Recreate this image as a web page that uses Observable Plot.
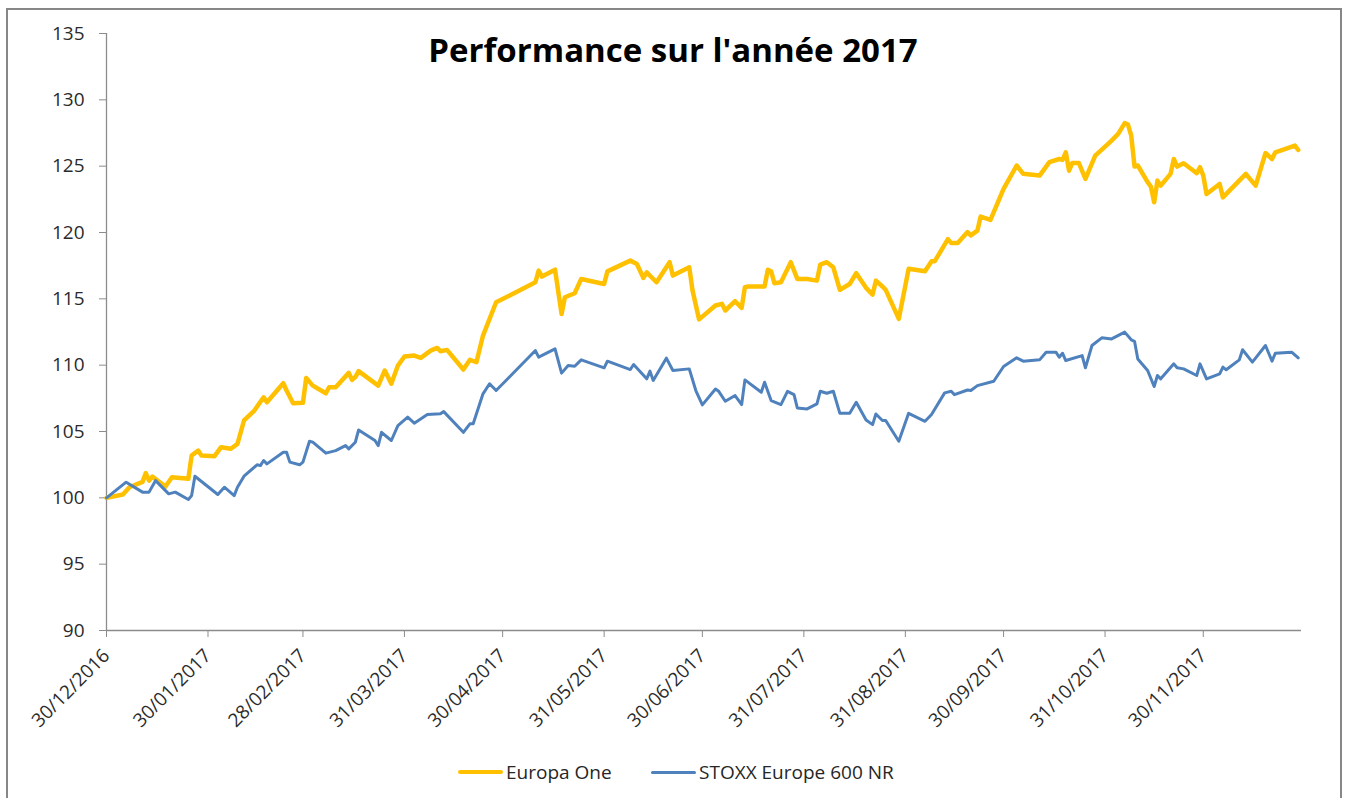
<!DOCTYPE html>
<html>
<head>
<meta charset="utf-8">
<script src="https://cdn.jsdelivr.net/npm/d3@7"></script>
<script src="https://cdn.jsdelivr.net/npm/@observablehq/plot@0.6"></script>
<style>
  html, body { margin: 0; padding: 0; background: #fff; }
  #wrap { position: relative; width: 1346px; height: 798px; overflow: hidden; background: #fff; }
  #frame { position: absolute; left: 6px; top: 8px; width: 1336px; height: 820px; border: 2px solid #878787; box-sizing: border-box; }
  #chart { position: absolute; left: 0; top: 0; }
  #title { position: absolute; left: 0; width: 1346px; top: 27px; text-align: center; font-family: "Open Sans", "Liberation Sans", sans-serif; font-weight: bold; font-size: 33px; color: #000; }
  #legend { position: absolute; top: 759px; left: 0; width: 1346px; font-family: "Open Sans", "Liberation Sans", sans-serif; font-size: 19px; color: #262626; }
  .item { position: absolute; display: flex; align-items: center; white-space: nowrap; }
  .swatch { display: inline-block; width: 45px; margin-right: 3px; border-radius: 2px; }
</style>
</head>
<body>
<div id="wrap">
  <div id="frame"></div>
  <div id="chart"></div>
  <div id="title"></div>
  <div id="legend"></div>
</div>
<script>
const titleText = "Performance sur l'année 2017";
const seriesNames = ["Europa One", "STOXX Europe 600 NR"];
const seriesColors = ["#FFC000", "#4F81BD"];

const xTickLabels = ["30/12/2016","30/01/2017","28/02/2017","31/03/2017","30/04/2017","31/05/2017",
  "30/06/2017","31/07/2017","31/08/2017","30/09/2017","31/10/2017","30/11/2017"];
const yTicks = [90, 95, 100, 105, 110, 115, 120, 125, 130, 135];
const xDomain = ["2016-12-30", "2017-12-30"];

const europaDates = ["2016-12-30","2017-01-04","2017-01-06","2017-01-10","2017-01-11","2017-01-12","2017-01-13","2017-01-17","2017-01-19","2017-01-24",
  "2017-01-25","2017-01-27","2017-01-28","2017-02-01","2017-02-03","2017-02-06","2017-02-08","2017-02-10","2017-02-13","2017-02-16",
  "2017-02-17","2017-02-22","2017-02-23","2017-02-25","2017-02-28","2017-03-01","2017-03-03","2017-03-07","2017-03-08","2017-03-10",
  "2017-03-14","2017-03-15","2017-03-16","2017-03-17","2017-03-23","2017-03-25","2017-03-27","2017-03-29","2017-03-31","2017-04-03",
  "2017-04-05","2017-04-08","2017-04-10","2017-04-11","2017-04-13","2017-04-18","2017-04-20","2017-04-22","2017-04-24","2017-04-28",
  "2017-05-02","2017-05-10","2017-05-11","2017-05-12","2017-05-16","2017-05-18","2017-05-19","2017-05-22","2017-05-24","2017-05-31",
  "2017-06-01","2017-06-08","2017-06-10","2017-06-12","2017-06-13","2017-06-16","2017-06-20","2017-06-21","2017-06-26","2017-06-27",
  "2017-06-29","2017-07-04","2017-07-06","2017-07-07","2017-07-10","2017-07-12","2017-07-13","2017-07-14","2017-07-19","2017-07-20",
  "2017-07-21","2017-07-22","2017-07-24","2017-07-27","2017-07-29","2017-08-01","2017-08-04","2017-08-05","2017-08-07","2017-08-09",
  "2017-08-11","2017-08-14","2017-08-16","2017-08-19","2017-08-21","2017-08-22","2017-08-24","2017-08-25","2017-08-29","2017-09-01",
  "2017-09-06","2017-09-08","2017-09-09","2017-09-13","2017-09-14","2017-09-16","2017-09-19","2017-09-20","2017-09-22","2017-09-23",
  "2017-09-26","2017-09-30","2017-10-04","2017-10-06","2017-10-11","2017-10-14","2017-10-17","2017-10-18","2017-10-19","2017-10-20",
  "2017-10-21","2017-10-23","2017-10-25","2017-10-28","2017-11-02","2017-11-04","2017-11-06","2017-11-07","2017-11-08","2017-11-09",
  "2017-11-10","2017-11-13","2017-11-14","2017-11-15","2017-11-16","2017-11-17","2017-11-20","2017-11-21","2017-11-22","2017-11-24",
  "2017-11-28","2017-11-29","2017-11-30","2017-12-01","2017-12-05","2017-12-06","2017-12-08","2017-12-13","2017-12-14","2017-12-16",
  "2017-12-19","2017-12-21","2017-12-22","2017-12-28","2017-12-29"];
const europaValues = [100.0,100.25,100.8,101.2,101.86,101.3,101.6,100.85,101.55,101.43,
  103.19,103.56,103.19,103.14,103.82,103.7,104.07,105.83,106.53,107.58,
  107.2,108.64,108.09,107.13,107.16,109.04,108.46,107.88,108.34,108.34,
  109.42,108.89,109.1,109.55,108.46,109.6,108.6,109.97,110.65,110.72,
  110.55,111.1,111.3,111.05,111.15,109.67,110.4,110.23,112.23,114.74,
  115.24,116.25,117.13,116.68,117.2,113.86,115.12,115.42,116.5,116.12,
  117.07,117.88,117.63,116.57,117.0,116.25,117.76,116.75,117.38,115.62,
  113.45,114.5,114.62,114.12,114.82,114.32,115.88,115.93,115.93,117.19,
  117.08,116.18,116.25,117.76,116.5,116.5,116.37,117.58,117.76,117.38,
  115.68,116.12,116.93,115.83,115.32,116.37,115.93,115.68,113.49,117.26,
  117.08,117.84,117.84,119.5,119.2,119.2,120.03,119.78,120.14,121.2,
  120.95,123.29,125.05,124.42,124.29,125.3,125.54,125.47,126.04,124.66,
  125.24,125.24,124.04,125.8,126.93,127.43,128.25,128.13,127.3,124.97,
  125.05,123.79,123.46,122.28,123.91,123.53,124.42,125.54,124.97,125.22,
  124.47,124.92,124.29,122.9,123.66,122.65,123.16,124.42,124.12,123.53,
  125.99,125.54,126.04,126.55,126.22];

const stoxxDates = ["2016-12-30","2017-01-05","2017-01-10","2017-01-12","2017-01-14","2017-01-18","2017-01-20","2017-01-24","2017-01-25","2017-01-26",
  "2017-02-02","2017-02-04","2017-02-07","2017-02-08","2017-02-10","2017-02-14","2017-02-15","2017-02-16","2017-02-17","2017-02-22",
  "2017-02-23","2017-02-24","2017-02-27","2017-02-28","2017-03-02","2017-03-03","2017-03-07","2017-03-10","2017-03-13","2017-03-14",
  "2017-03-16","2017-03-17","2017-03-22","2017-03-23","2017-03-24","2017-03-27","2017-03-29","2017-04-01","2017-04-03","2017-04-07",
  "2017-04-11","2017-04-12","2017-04-18","2017-04-20","2017-04-21","2017-04-24","2017-04-26","2017-04-28","2017-05-02","2017-05-10",
  "2017-05-11","2017-05-16","2017-05-18","2017-05-20","2017-05-22","2017-05-24","2017-05-31","2017-06-01","2017-06-08","2017-06-09",
  "2017-06-13","2017-06-14","2017-06-15","2017-06-19","2017-06-21","2017-06-26","2017-06-28","2017-06-30","2017-07-04","2017-07-05",
  "2017-07-07","2017-07-10","2017-07-12","2017-07-13","2017-07-18","2017-07-19","2017-07-21","2017-07-24","2017-07-26","2017-07-28",
  "2017-07-29","2017-08-01","2017-08-04","2017-08-05","2017-08-07","2017-08-09","2017-08-11","2017-08-14","2017-08-16","2017-08-19",
  "2017-08-21","2017-08-22","2017-08-24","2017-08-25","2017-08-29","2017-09-01","2017-09-06","2017-09-08","2017-09-12","2017-09-14",
  "2017-09-15","2017-09-19","2017-09-20","2017-09-22","2017-09-27","2017-09-30","2017-10-04","2017-10-06","2017-10-11","2017-10-13",
  "2017-10-16","2017-10-17","2017-10-18","2017-10-19","2017-10-24","2017-10-25","2017-10-27","2017-10-30","2017-11-02","2017-11-06",
  "2017-11-08","2017-11-09","2017-11-10","2017-11-13","2017-11-15","2017-11-16","2017-11-17","2017-11-21","2017-11-22","2017-11-24",
  "2017-11-28","2017-11-29","2017-12-01","2017-12-05","2017-12-06","2017-12-07","2017-12-11","2017-12-12","2017-12-15","2017-12-19",
  "2017-12-21","2017-12-22","2017-12-27","2017-12-29"];
const stoxxValues = [100.0,101.18,100.43,100.43,101.3,100.3,100.43,99.87,100.17,101.63,
  100.25,100.8,100.17,100.8,101.63,102.49,102.43,102.81,102.56,103.44,
  103.44,102.69,102.49,102.69,104.27,104.2,103.37,103.56,103.94,103.69,
  104.19,105.12,104.32,103.94,104.94,104.32,105.45,106.08,105.63,106.28,
  106.33,106.5,104.94,105.58,105.58,107.84,108.6,108.09,109.09,111.1,
  110.6,111.23,109.4,109.97,109.92,110.4,109.8,110.3,109.67,110.05,
  108.97,109.55,108.85,110.53,109.6,109.72,108.09,107.01,108.2,108.03,
  107.28,107.71,107.03,108.89,107.96,108.71,107.33,107.03,108.03,107.78,
  106.78,106.7,107.08,108.03,107.88,108.03,106.37,106.37,107.2,105.87,
  105.52,106.32,105.83,105.83,104.27,106.37,105.77,106.28,107.91,108.03,
  107.78,108.13,108.09,108.46,108.79,109.9,110.55,110.3,110.4,110.98,
  110.98,110.6,110.9,110.35,110.72,109.8,111.48,112.06,111.98,112.49,
  111.91,111.8,110.47,109.6,108.39,109.22,108.97,110.1,109.8,109.72,
  109.22,110.1,108.97,109.35,109.85,109.65,110.4,111.16,110.23,111.48,
  110.3,110.9,110.98,110.55];

const parseISO = d3.utcParse("%Y-%m-%d");
const parseFR = d3.utcParse("%d/%m/%Y");
const fmtFR = d3.utcFormat("%d/%m/%Y");

const europa = europaDates.map((d, i) => ({date: parseISO(d), value: europaValues[i], series: seriesNames[0]}));
const stoxx = stoxxDates.map((d, i) => ({date: parseISO(d), value: stoxxValues[i], series: seriesNames[1]}));

const axisColor = "#8c8c8c";
const textColor = "#2b2b2b";

const chart = Plot.plot({
  width: 1346,
  height: 750,
  marginLeft: 106,
  marginRight: 45,
  marginTop: 33,
  marginBottom: 120,
  style: {fontFamily: "'Open Sans', 'Liberation Sans', sans-serif", fontSize: "19px", color: textColor, background: "transparent"},
  x: {type: "utc", domain: xDomain.map(parseISO)},
  y: {domain: [yTicks[0], yTicks[yTicks.length - 1]]},
  marks: [
    Plot.ruleY([yTicks[0]], {stroke: axisColor, strokeWidth: 1.3}),
    Plot.ruleX([parseISO(xDomain[0])], {stroke: axisColor, strokeWidth: 1.3}),
    Plot.axisY({ticks: yTicks, tickSize: 7, tickPadding: 15, fontSize: 19, stroke: axisColor, fill: textColor, label: null, tickFormat: d => String(d)}),
    Plot.axisX({ticks: xTickLabels.map(parseFR), tickFormat: fmtFR, tickSize: 7, tickPadding: 15, fontSize: 19, tickRotate: -45, stroke: axisColor, fill: textColor, label: null}),
    Plot.line(europa, {x: "date", y: "value", stroke: seriesColors[0], strokeWidth: 4.5, strokeLinejoin: "round", strokeLinecap: "round"}),
    Plot.line(stoxx, {x: "date", y: "value", stroke: seriesColors[1], strokeWidth: 3, strokeLinejoin: "round", strokeLinecap: "round"})
  ]
});
document.getElementById("chart").appendChild(chart);
document.getElementById("title").textContent = titleText;

const legend = document.getElementById("legend");
const legendLeft = [458, 651];
const swatchWidths = [4.5, 3];
seriesNames.forEach((name, i) => {
  const item = document.createElement("div");
  item.className = "item";
  item.style.left = legendLeft[i] + "px";
  const sw = document.createElement("span");
  sw.className = "swatch";
  sw.style.background = seriesColors[i];
  sw.style.height = swatchWidths[i] + "px";
  const label = document.createElement("span");
  label.textContent = name;
  item.appendChild(sw);
  item.appendChild(label);
  legend.appendChild(item);
});
</script>
</body>
</html>
